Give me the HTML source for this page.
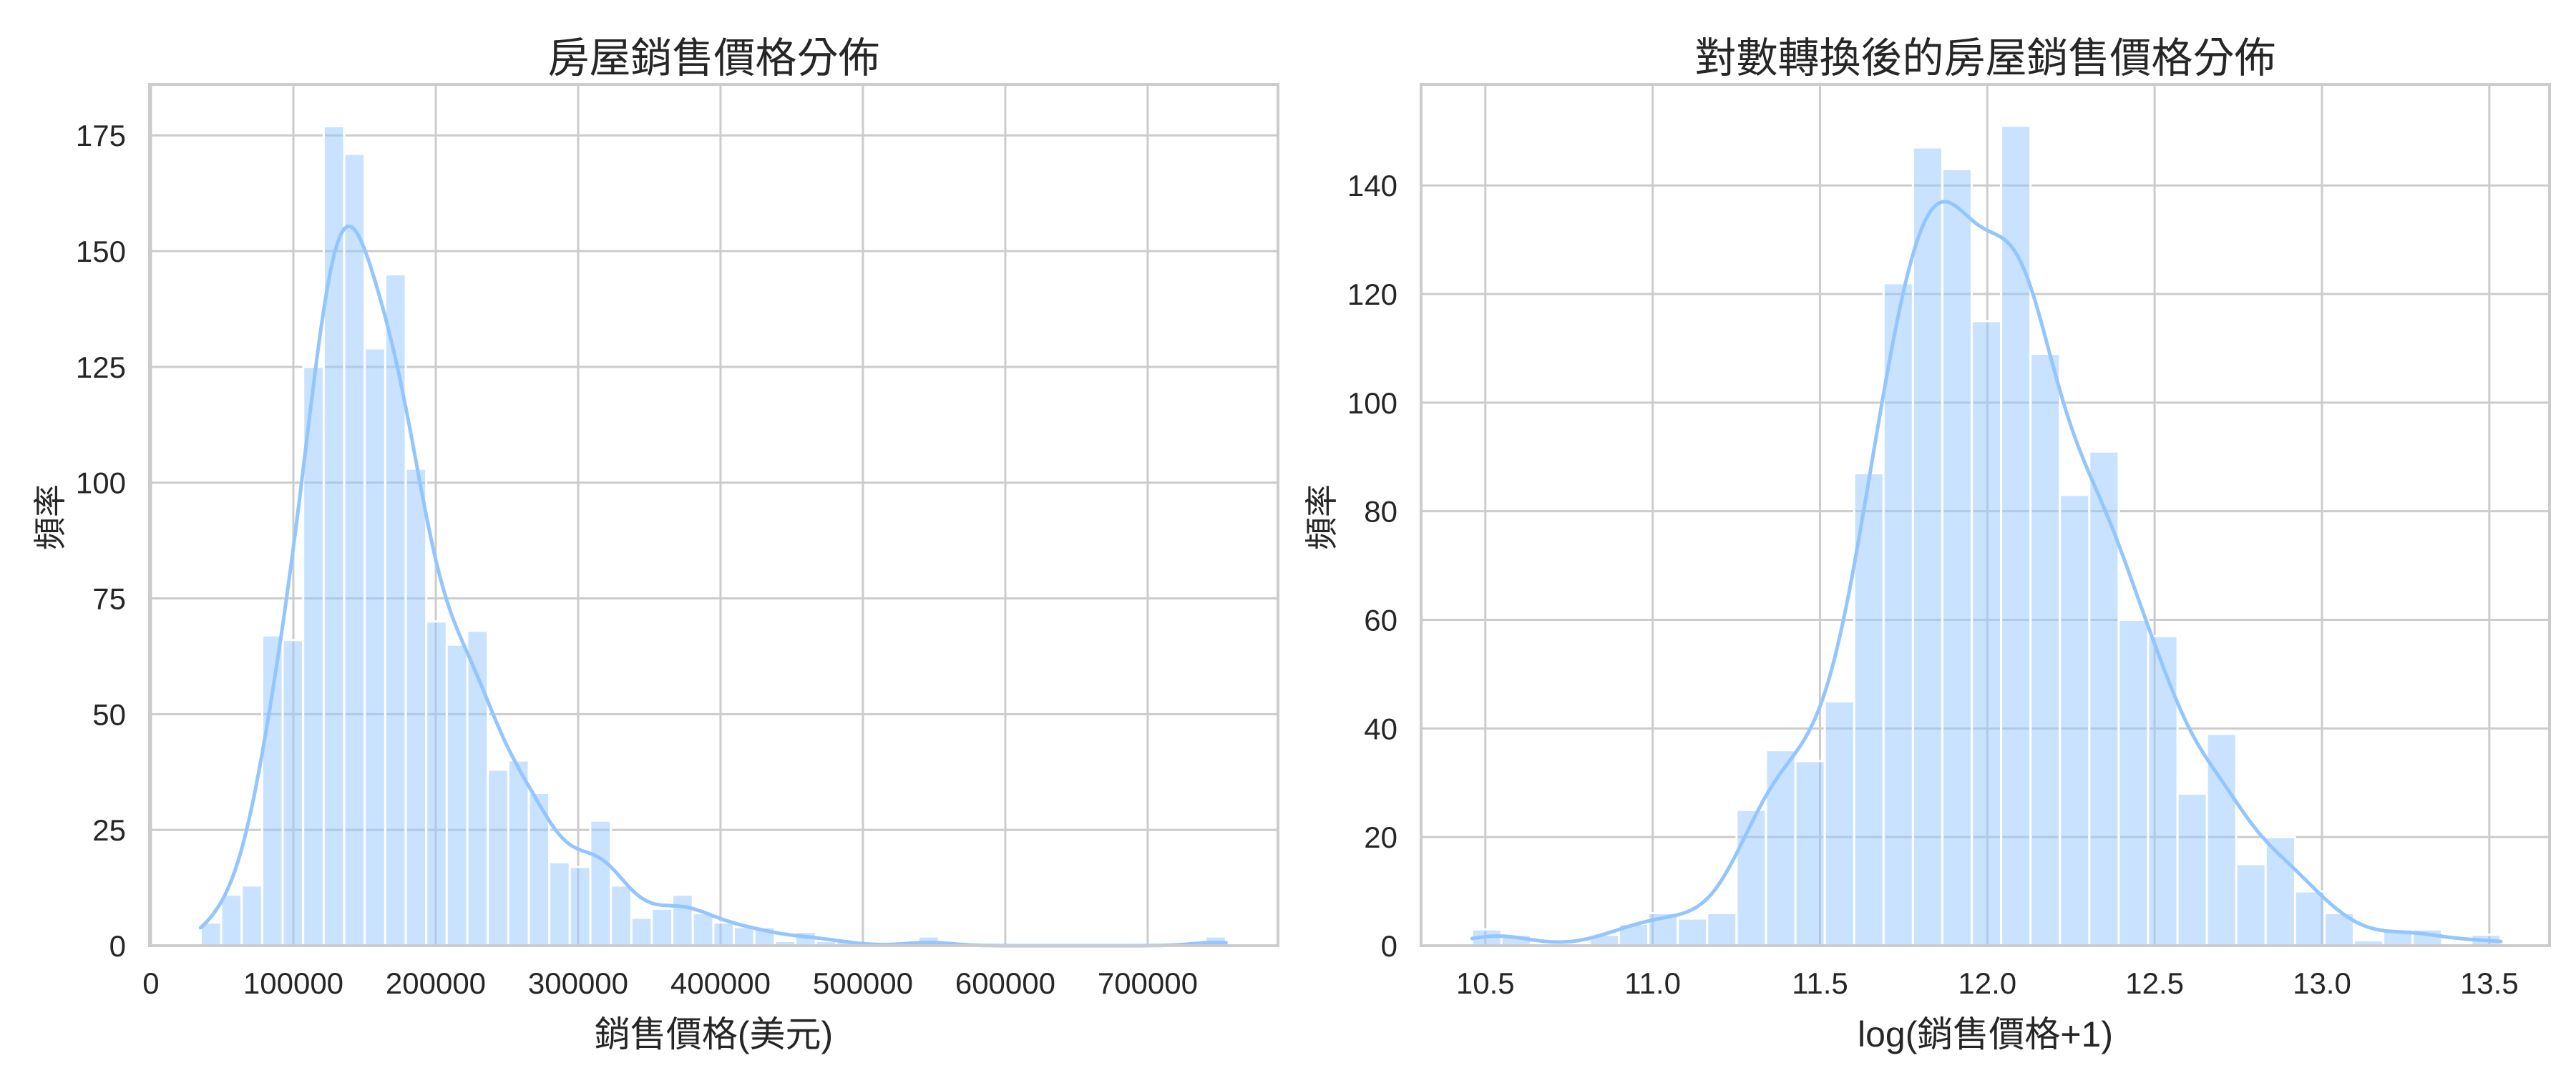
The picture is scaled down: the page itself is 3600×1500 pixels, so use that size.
<!DOCTYPE html>
<html><head><meta charset="utf-8">
<style>
html,body{margin:0;padding:0;background:#fff;}
svg{display:block;}
text{font-family:"Liberation Sans","Noto Sans CJK TC",sans-serif;fill:#262626;}
</style></head>
<body>
<svg id="chart" width="3600" height="1500" viewBox="0 0 3600 1500" xmlns="http://www.w3.org/2000/svg">
<rect width="3600" height="1500" fill="#fff"/>
</svg>
<script>
// ---- Left chart data (SalePrice histogram, 50 bins) ----
const leftBinStart = 34900;
const leftBinEnd = 755000;
const leftCounts = [5,11,13,67,66,125,177,171,129,145,103,70,65,68,38,40,33,18,17,27,13,6,8,11,7,5,4,4,1,3,1,1,0,0,0,2,0,0,0,0,0,0,0,0,0,0,0,0,0,2];
const leftXTicks = [0,100000,200000,300000,400000,500000,600000,700000];
const leftYTicks = [0,25,50,75,100,125,150,175];
const leftXDomain = [-1000, 791500];
const leftYDomain = [0, 186];

// ---- Right chart data (log SalePrice histogram, 35 bins) ----
const rightBinStart = 10.4602;
const rightBinEnd = 13.5345;
const rightCounts = [3,2,0,0,2,4,6,5,6,25,36,34,45,87,122,147,143,115,151,109,83,91,60,57,28,39,15,20,10,6,1,3,3,0,2];
const rightXTicks = [10.5,11.0,11.5,12.0,12.5,13.0,13.5];
const rightYTicks = [0,20,40,60,80,100,120,140];
const rightXDomain = [10.308, 13.68];
const rightYDomain = [0, 158.6];

const NS = "http://www.w3.org/2000/svg";
const svg = document.getElementById('chart');
function mk(tag, attrs, parent){
  const e = document.createElementNS(NS, tag);
  for (const k in attrs) e.setAttribute(k, attrs[k]);
  (parent||svg).appendChild(e);
  return e;
}

function drawPanel(cfg){
  const {px0, px1, py0, py1, xDom, yDom, counts, b0, b1, xTicks, yTicks, fmtX, title, xlabel, ylabelX, prefix} = cfg;
  const sx = v => px0 + (v - xDom[0]) / (xDom[1] - xDom[0]) * (px1 - px0);
  const sy = v => py1 - (v - yDom[0]) / (yDom[1] - yDom[0]) * (py1 - py0);
  const g = mk('g', {});
  
  

  const grid = mk('g', {stroke:'#cccccc','stroke-width':3}, g);
  
  
  xTicks.forEach(t => { mk('line',{x1:sx(t),x2:sx(t),y1:py0,y2:py1},grid); });
  yTicks.forEach(t => { mk('line',{x1:px0,x2:px1,y1:sy(t),y2:sy(t)},grid); });

  const n = counts.length;
  const bw = (b1 - b0) / n;
  const bars = mk('g', {}, g);
  
  
  counts.forEach((c, i) => {
    if (c <= 0) return;
    const xa = sx(b0 + i*bw), xb = sx(b0 + (i+1)*bw);
    const r = mk('rect', {x:xa, y:sy(c), width:xb-xa, height:sy(0)-sy(c), fill:'#93c6ff','fill-opacity':0.5, stroke:'#ffffff','stroke-width':3}, bars);
    
    
  });

  let total = 0, mean = 0;
  counts.forEach((c,i)=>{ total += c; mean += c*(b0+(i+0.5)*bw); });
  mean /= total;
  let v = 0;
  counts.forEach((c,i)=>{ const d=(b0+(i+0.5)*bw)-mean; v += c*d*d; });
  const sd = Math.sqrt(v/(total-1));
  const h = sd * Math.pow(total, -0.2) * 0.95;
  const pts = [];
  const N = 300;
  for (let k=0;k<=N;k++){
    const x = b0 + (b1-b0)*k/N;
    let dens = 0;
    counts.forEach((c,i)=>{ const z=(x-(b0+(i+0.5)*bw))/h; dens += c*Math.exp(-0.5*z*z); });
    dens = dens / (h*Math.sqrt(2*Math.PI)) * bw;
    pts.push(sx(x).toFixed(1)+','+sy(dens).toFixed(1));
  }
  const kde = mk('polyline', {points:pts.join(' '), fill:'none', stroke:'#93c6ff','stroke-width':5,'stroke-linecap':'round','stroke-linejoin':'round'}, g);
  
  

  const sp = mk('rect', {x:px0, y:py0, width:px1-px0, height:py1-py0, fill:'none', stroke:'#cccccc','stroke-width':4}, g);
  
  

  xTicks.forEach(t => {
    const tx = mk('text', {x:sx(t), y:1389, 'font-size':42, 'text-anchor':'middle'}, g);
    tx.textContent = fmtX(t);
    
    
  });
  yTicks.forEach(t => {
    const ty = mk('text', {x:px0-33, y:sy(t)+15, 'font-size':42, 'text-anchor':'end'}, g);
    ty.textContent = String(t);
    
    
  });

  const tt = mk('text', {x:(px0+px1)/2, y:101, 'font-size':58, 'text-anchor':'middle'}, g);
  tt.textContent = title;
  
  

  const xl = mk('text', {x:(px0+px1)/2, y:1463, 'font-size':50, 'text-anchor':'middle'}, g);
  xl.textContent = xlabel;
  
  

  const yl = mk('text', {x:0, y:0, 'font-size':46, 'text-anchor':'middle', transform:'translate('+(ylabelX+16)+',723) rotate(-90)'}, g);
  yl.textContent = '頻率';
  
  
}

drawPanel({px0:209, px1:1786, py0:118, py1:1322, xDom:leftXDomain, yDom:leftYDomain,
  counts:leftCounts, b0:leftBinStart, b1:leftBinEnd, xTicks:leftXTicks, yTicks:leftYTicks,
  fmtX: t => String(t), title:'房屋銷售價格分佈', xlabel:'銷售價格(美元)', ylabelX:70, prefix:'left'});
drawPanel({px0:1986, px1:3563, py0:118, py1:1322, xDom:rightXDomain, yDom:rightYDomain,
  counts:rightCounts, b0:rightBinStart, b1:rightBinEnd, xTicks:rightXTicks, yTicks:rightYTicks,
  fmtX: t => t.toFixed(1), title:'對數轉換後的房屋銷售價格分佈', xlabel:'log(銷售價格+1)', ylabelX:1847, prefix:'right'});
</script>
</body></html>
